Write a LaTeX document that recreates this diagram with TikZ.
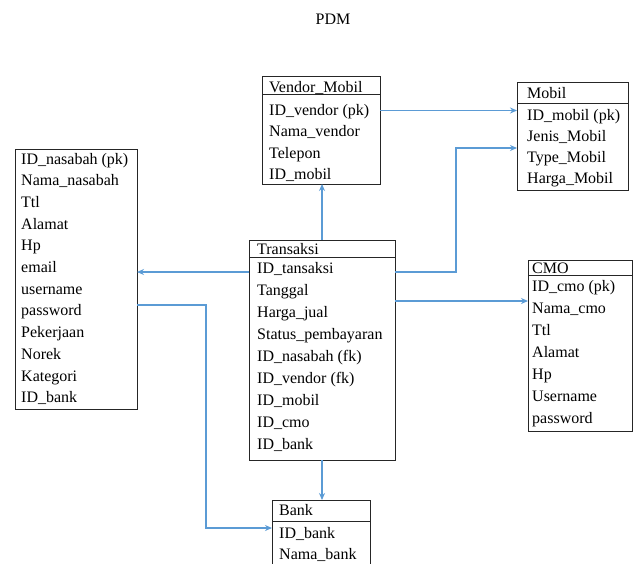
\documentclass[tikz,border=0pt]{standalone}
\usepackage{fontspec}
\setmainfont{Liberation Serif}
\usetikzlibrary{arrows.meta}

\definecolor{garisbiru}{RGB}{91,155,213}

\tikzset{
  kotak/.style={draw=black!85, line width=0.9pt, anchor=north west, inner sep=0pt, outer sep=0pt},
  teks/.style={anchor=base west, inner sep=0pt, font=\fontsize{16}{19}\selectfont},
  relasi/.style={draw=garisbiru, line width=1.2pt, -{Stealth[length=7pt,width=6pt]}}
}

\begin{document}
\begin{tikzpicture}[x=1pt,y=-1pt]
  \useasboundingbox (0,0) rectangle (636,563);

  \node[teks, anchor=base] (judul) at (333,24.5) {PDM};

  % Vendor_Mobil
  \node[kotak, minimum width=118pt, minimum height=18pt] (vendorKepala) at (262,76) {};
  \node[kotak, minimum width=118pt, minimum height=90pt] (vendor) at (vendorKepala.south west) {};
  \node[teks] (vendorJudul) at (269,92) {Vendor\_Mobil};
  \foreach \isi [count=\i] in {ID\_vendor (pk), Nama\_vendor, Telepon, ID\_mobil}
    \node[teks] (vendor-\i) at (269,{115+21.5*(\i-1)}) {\isi};

  % Mobil
  \node[kotak, minimum width=111pt, minimum height=21pt] (mobilKepala) at (517,82) {};
  \node[kotak, minimum width=111pt, minimum height=87pt] (mobil) at (mobilKepala.south west) {};
  \node[teks] (mobilJudul) at (527,98) {Mobil};
  \foreach \isi [count=\i] in {ID\_mobil (pk), Jenis\_Mobil, Type\_Mobil, Harga\_Mobil}
    \node[teks] (mobil-\i) at (527,{120+21*(\i-1)}) {\isi};

  % nasabah
  \node[kotak, minimum width=122pt, minimum height=260pt] (nasabah) at (15,149) {};
  \foreach \isi [count=\i] in {ID\_nasabah (pk), Nama\_nasabah, Ttl, Alamat, Hp, email,
      username, password, Pekerjaan, Norek, Kategori, ID\_bank}
    \node[teks] (nasabah-\i) at (21,{164+21.7*(\i-1)}) {\isi};

  % Transaksi
  \node[kotak, minimum width=146pt, minimum height=17pt] (transaksiKepala) at (249,240) {};
  \node[kotak, minimum width=146pt, minimum height=203pt] (transaksi) at (transaksiKepala.south west) {};
  \node[teks] (transaksiJudul) at (257,254) {Transaksi};
  \foreach \isi [count=\i] in {ID\_tansaksi, Tanggal, Harga\_jual, Status\_pembayaran,
      ID\_nasabah (fk), ID\_vendor (fk), ID\_mobil, ID\_cmo, ID\_bank}
    \node[teks] (transaksi-\i) at (257,{273+22*(\i-1)}) {\isi};

  % CMO
  \node[kotak, minimum width=104pt, minimum height=15pt] (cmoKepala) at (528,260) {};
  \node[kotak, minimum width=104pt, minimum height=156pt] (cmo) at (cmoKepala.south west) {};
  \node[teks] (cmoJudul) at (532,273) {CMO};
  \foreach \isi [count=\i] in {ID\_cmo (pk), Nama\_cmo, Ttl, Alamat, Hp, Username, password}
    \node[teks] (cmo-\i) at (532,{291+22*(\i-1)}) {\isi};

  % Bank
  \node[kotak, minimum width=98pt, minimum height=21pt] (bankKepala) at (272,500) {};
  \node[kotak, minimum width=98pt, minimum height=70pt] (bank) at (bankKepala.south west) {};
  \node[teks] (bankJudul) at (279,515) {Bank};
  \foreach \isi [count=\i] in {ID\_bank, Nama\_bank}
    \node[teks] (bank-\i) at (279,{538+21*(\i-1)}) {\isi};

  % relasi
  \draw[relasi] (vendor.east |- 0,110.5) -- (mobil.west |- 0,110.5);
  \draw[relasi] (transaksiKepala.north) -- (transaksiKepala.north |- vendor.south);
  \draw[relasi] (transaksi.west |- 0,272) -- (nasabah.east |- 0,272);
  \draw[relasi] (transaksi.east |- 0,272) -- ++(61,0) |- (mobil.west |- 0,148);
  \draw[relasi] (transaksi.east |- 0,301) -- (cmo.west |- 0,301);
  \draw[relasi] (transaksi.south) -- (transaksi.south |- bankKepala.north);
  \draw[relasi] (nasabah.east |- 0,305) -- ++(69,0) |- (bank.west |- 0,528);
\end{tikzpicture}
\end{document}
